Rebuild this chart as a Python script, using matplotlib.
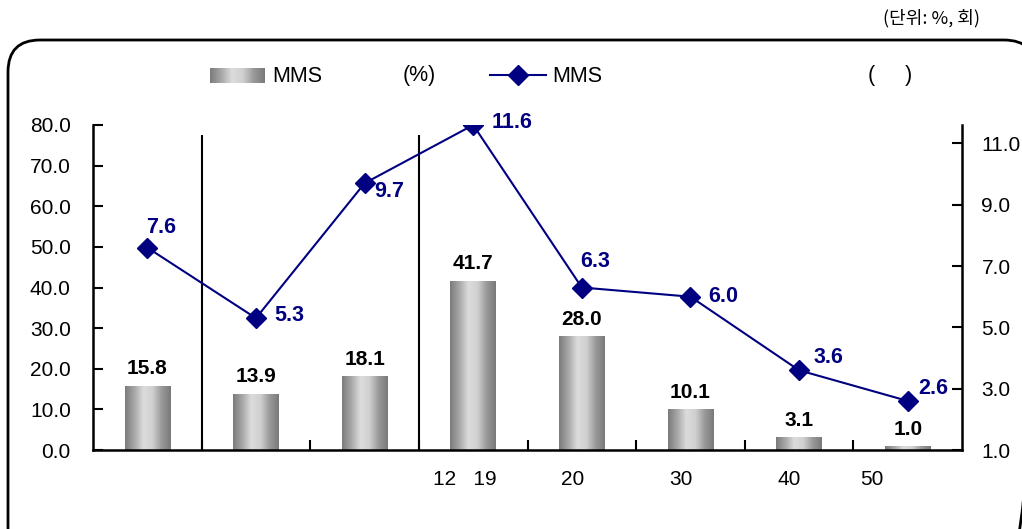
import numpy as np
import matplotlib
matplotlib.use("Agg")
import matplotlib.pyplot as plt
from matplotlib.colors import LinearSegmentedColormap
from matplotlib.patches import FancyBboxPatch, Rectangle
from matplotlib.lines import Line2D

# data
bar_values = [15.8, 13.9, 18.1, 41.7, 28.0, 10.1, 3.1, 1.0]
line_values = [7.6, 5.3, 9.7, 11.6, 6.3, 6.0, 3.6, 2.6]
x_labels = ["12   19", "20", "30", "40", "50"]
x_label_pos = [3.42, 4.42, 5.41, 6.41, 7.17]   # labels sit a bit left (missing glyphs)
left_ticks = [0, 10, 20, 30, 40, 50, 60, 70, 80]
right_ticks = [1, 3, 5, 7, 9, 11]
dividers = [1, 3]

W, H = 1022, 529
plt.rcParams['font.family'] = ['Liberation Sans', 'DejaVu Sans']
NARROW = ['Liberation Sans Narrow', 'Liberation Sans', 'DejaVu Sans']
NAVY = '#000080'

fig = plt.figure(figsize=(W / 100, H / 100), dpi=100)
ax = fig.add_axes([93 / W, 1 - 450 / H, (962 - 93) / W, (450 - 125) / H])
ax2 = ax.twinx()

gray = LinearSegmentedColormap.from_list(
    'cyl', ['#7c7c7c', '#a8a8a8', '#dcdcdc', '#d0d0d0', '#9a9a9a', '#7a7a7a'])
grad = np.linspace(0, 1, 64).reshape(1, -1)

x = np.arange(len(bar_values)) + 0.5
bars = ax.bar(x, bar_values, width=0.42, color='none', edgecolor='none', zorder=2)
for b, v in zip(bars, bar_values):
    x0 = b.get_x()
    im = ax.imshow(grad, extent=[x0, x0 + b.get_width(), 0, v], aspect='auto',
                   cmap=gray, zorder=2)
    im.set_clip_path(b)
    ax.text(x0 + b.get_width() / 2, v + 1.8, f"{v:.1f}", ha='center', va='bottom',
            fontsize=15, fontweight='bold', family=NARROW, color='black')

ax.set_xlim(0, 8)
ax.set_ylim(0, 80)
ax.set_yticks(left_ticks)
ax.set_yticklabels([f"{t:.1f}" for t in left_ticks], fontsize=15)
ax.set_xticks(range(1, 8))
ax.set_xticklabels([])
ax.tick_params(axis='both', direction='in', length=7, width=1.5, colors='black')
ax.tick_params(axis='y', pad=16)
for xp, lab in zip(x_label_pos, x_labels):
    ax.text(xp, -5.0, lab, ha='center', va='top', fontsize=15)
for d in dividers:
    ax.vlines(d, 0, 77.5, color='black', lw=1.5, zorder=3)

ax2.plot(x, line_values, color=NAVY, lw=1.5, marker='D', markersize=10,
         markerfacecolor=NAVY, markeredgecolor=NAVY, zorder=4)
ax2.set_ylim(1, 11.6)
ax2.set_yticks(right_ticks)
ax2.set_yticklabels([f"{t:.1f}" for t in right_ticks], fontsize=15)
ax2.tick_params(axis='y', direction='in', length=7, width=1.5, pad=14)

# label offsets in pixels (left edge, up) from each marker
offsets_px = [(-1, 20), (18, 3), (10, -8), (18, 3), (-2, 26), (18, 0), (14, 13), (11, 12)]
for xi, v, (dx, dy) in zip(x, line_values, offsets_px):
    ax2.annotate(f"{v:.1f}", (xi, v), xytext=(dx * 0.72, dy * 0.72),
                 textcoords='offset points', ha='left', va='center', fontsize=15.5,
                 fontweight='bold', family=NARROW, color=NAVY)

for a in (ax, ax2):
    a.spines['top'].set_visible(False)
    for s in ('left', 'right', 'bottom'):
        a.spines[s].set_linewidth(1.8)
ax.spines['right'].set_visible(False)
ax2.spines['left'].set_visible(False)
ax2.spines['bottom'].set_visible(False)
ax.set_zorder(ax2.get_zorder() - 1)
ax.patch.set_visible(True)
ax2.patch.set_visible(False)

# overlay for frame, legend and unit note (pixel coords)
ov = fig.add_axes([0, 0, 1, 1], zorder=-5)
ov.set_xlim(0, W)
ov.set_ylim(H, 0)
ov.axis('off')
ov.add_patch(FancyBboxPatch((8, 40), 1028, 530, boxstyle='round,pad=0,rounding_size=32',
                            fill=False, ec='black', lw=2))
leg = fig.add_axes([0, 0, 1, 1], zorder=5)
leg.set_xlim(0, W)
leg.set_ylim(H, 0)
leg.axis('off')
r = Rectangle((210, 68), 55, 15, fc='none', ec='none')
leg.add_patch(r)
im = leg.imshow(grad, extent=[210, 265, 83, 68], aspect='auto', cmap=gray)
im.set_clip_path(r)
leg.set_xlim(0, W)
leg.set_ylim(H, 0)
leg.text(272, 76, "MMS", fontsize=15.5, va='center')
leg.text(403, 76, "(%)", fontsize=15.5, va='center')
leg.add_line(Line2D([490, 546], [75, 75], color=NAVY, lw=1.5))
leg.plot([518], [75], marker='D', markersize=10, color=NAVY)
leg.text(552, 76, "MMS", fontsize=15.5, va='center')
leg.text(868, 76, "(     )", fontsize=15.5, va='center')
leg.text(980, 18, "(단위: %, 회)", fontsize=13, ha='right', va='center',
         family=['Noto Sans CJK KR', 'DejaVu Sans'])

fig.savefig("out.png", dpi=100)
